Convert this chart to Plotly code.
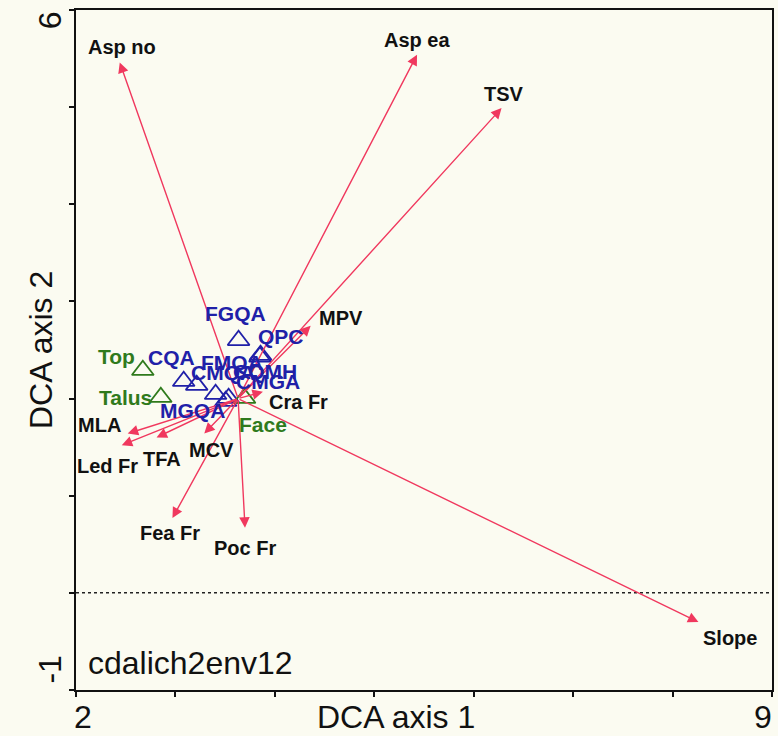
import plotly.graph_objects as go

# Environmental vectors (DCA biplot): arrow tips, all drawn from a common origin
env_origin = (3.63, 2.00)
env_names = ["Asp no", "Asp ea", "TSV", "MPV", "Cra Fr", "Slope",
             "Poc Fr", "Fea Fr", "MCV", "MLA", "TFA", "Led Fr"]
env_x = [2.44, 5.43, 6.28, 4.36, 3.88, 8.26, 3.70, 2.97, 3.29, 2.52, 2.81, 2.46]
env_y = [5.46, 5.54, 4.99, 2.75, 2.07, -0.30, 0.67, 0.77, 1.64, 1.64, 1.60, 1.52]

# Sample scores (community types) on DCA axes 1 and 2
site_names = ["FGQA", "QPC", "FMQA", "CQA", "CMQA", "CQMH", "CMGA", "MGQA"]
site_x = [3.635, 3.856, 3.850, 3.083, 3.214, 3.535, 3.505, 3.404]
site_y = [2.600, 2.447, 2.430, 2.179, 2.138, 2.004, 1.973, 2.045]

# Habitat positions
hab_names = ["Top", "Talus", "Face"]
hab_x = [2.672, 2.853, 3.695]
hab_y = [2.292, 2.014, 2.004]

# Label placement (screen pixel offsets from the mark; +dy is downward)
env_label_offset = {
    "Asp no": (2, -15), "Asp ea": (0, -15), "TSV": (2, -14), "MPV": (30, -8),
    "Cra Fr": (36, 10), "Slope": (32, 16), "Poc Fr": (0, 20), "Fea Fr": (-2, 15),
    "MCV": (7, 16), "MLA": (-28, -9), "TFA": (5, 22), "Led Fr": (-14, 21),
}
site_label_offset = {
    "FGQA": (-3, -27), "QPC": (20, -19), "FMQA": (-28, 6), "CQA": (-12, -24),
    "CMQA": (26, -13), "CQMH": (36, -27), "CMGA": (42, -20), "MGQA": (-23, 16),
}
hab_label_offset = {"Top": (-26, -14), "Talus": (-35, 0), "Face": (18, 26)}

ARROW = "#f0385e"
BLUE = "#2020a8"
GREEN = "#2f7a1c"
BG = "#fbfbf1"
FONT = "Liberation Sans, Arial, sans-serif"

fig = go.Figure()

fig.add_trace(go.Scatter(
    x=site_x, y=site_y, mode="markers", hoverinfo="skip",
    marker=dict(symbol="triangle-up-open", size=19, color=BLUE,
                line=dict(color=BLUE, width=1.8)),
))
fig.add_trace(go.Scatter(
    x=hab_x, y=hab_y, mode="markers", hoverinfo="skip",
    marker=dict(symbol="triangle-up-open", size=19, color=GREEN,
                line=dict(color=GREEN, width=1.8)),
))

annotations = []
# arrows
for name, ex, ey in zip(env_names, env_x, env_y):
    annotations.append(dict(
        x=ex, y=ey, ax=env_origin[0], ay=env_origin[1],
        xref="x", yref="y", axref="x", ayref="y", text="",
        showarrow=True, arrowhead=2, arrowsize=1.5, arrowwidth=1.4,
        arrowcolor=ARROW, standoff=0, startstandoff=0,
    ))

label_common = dict(xref="x", yref="y", showarrow=False,
                    xanchor="center", yanchor="middle")
# arrow labels
for name, ex, ey in zip(env_names, env_x, env_y):
    dx, dy = env_label_offset[name]
    annotations.append(dict(
        x=ex, y=ey, text="<b>%s</b>" % name, xshift=dx, yshift=-dy,
        font=dict(family=FONT, size=20, color="#111111"), **label_common,
    ))
for name, sx, sy in zip(site_names, site_x, site_y):
    dx, dy = site_label_offset[name]
    annotations.append(dict(
        x=sx, y=sy, text="<b>%s</b>" % name, xshift=dx, yshift=-dy,
        font=dict(family=FONT, size=21, color=BLUE), **label_common,
    ))
for name, hx, hy in zip(hab_names, hab_x, hab_y):
    dx, dy = hab_label_offset[name]
    annotations.append(dict(
        x=hx, y=hy, text="<b>%s</b>" % name, xshift=dx, yshift=-dy,
        font=dict(family=FONT, size=21, color=GREEN), **label_common,
    ))

big = dict(family=FONT, size=32, color="#111111")
paper = dict(xref="paper", yref="paper", showarrow=False,
             xanchor="center", yanchor="middle", font=big)
# axis end labels and titles
annotations += [
    dict(x=0.01, y=0, yshift=-27, text="2", **paper),
    dict(x=0.9865, y=0, yshift=-27, text="9", **paper),
    dict(x=0.46, y=0, yshift=-27, text="DCA axis 1", **paper),
    dict(x=0, y=0.985, xshift=-26, text="6", textangle=-90, **paper),
    dict(x=0, y=0.03, xshift=-26, text="-1", textangle=-90, **paper),
    dict(x=0, y=0.5, xshift=-35, text="DCA axis 2", textangle=-90, **paper),
]
annotations.append(dict(x=0.015, y=0.04, xref="paper", yref="paper",
                        xanchor="left", yanchor="middle", showarrow=False,
                        text="cdalich2env12", font=big))

fig.update_layout(
    width=778, height=736,
    margin=dict(l=76, r=4, t=10, b=46),
    paper_bgcolor=BG, plot_bgcolor=BG,
    showlegend=False,
    annotations=annotations,
    shapes=[dict(type="line", xref="x", yref="y", x0=2, x1=9, y0=0, y1=0,
                 line=dict(color="#222222", width=1.5, dash="dot"))],
)
axis_common = dict(showgrid=False, zeroline=False, showline=True, mirror=True,
                   linecolor="#111111", linewidth=2, ticks="outside", ticklen=5,
                   tickcolor="#111111", tickwidth=1.5, showticklabels=False,
                   dtick=1)
fig.update_xaxes(range=[2, 9], tick0=2, **axis_common)
fig.update_yaxes(range=[-1, 6], tick0=-1, **axis_common)

fig.write_html("out.html")
